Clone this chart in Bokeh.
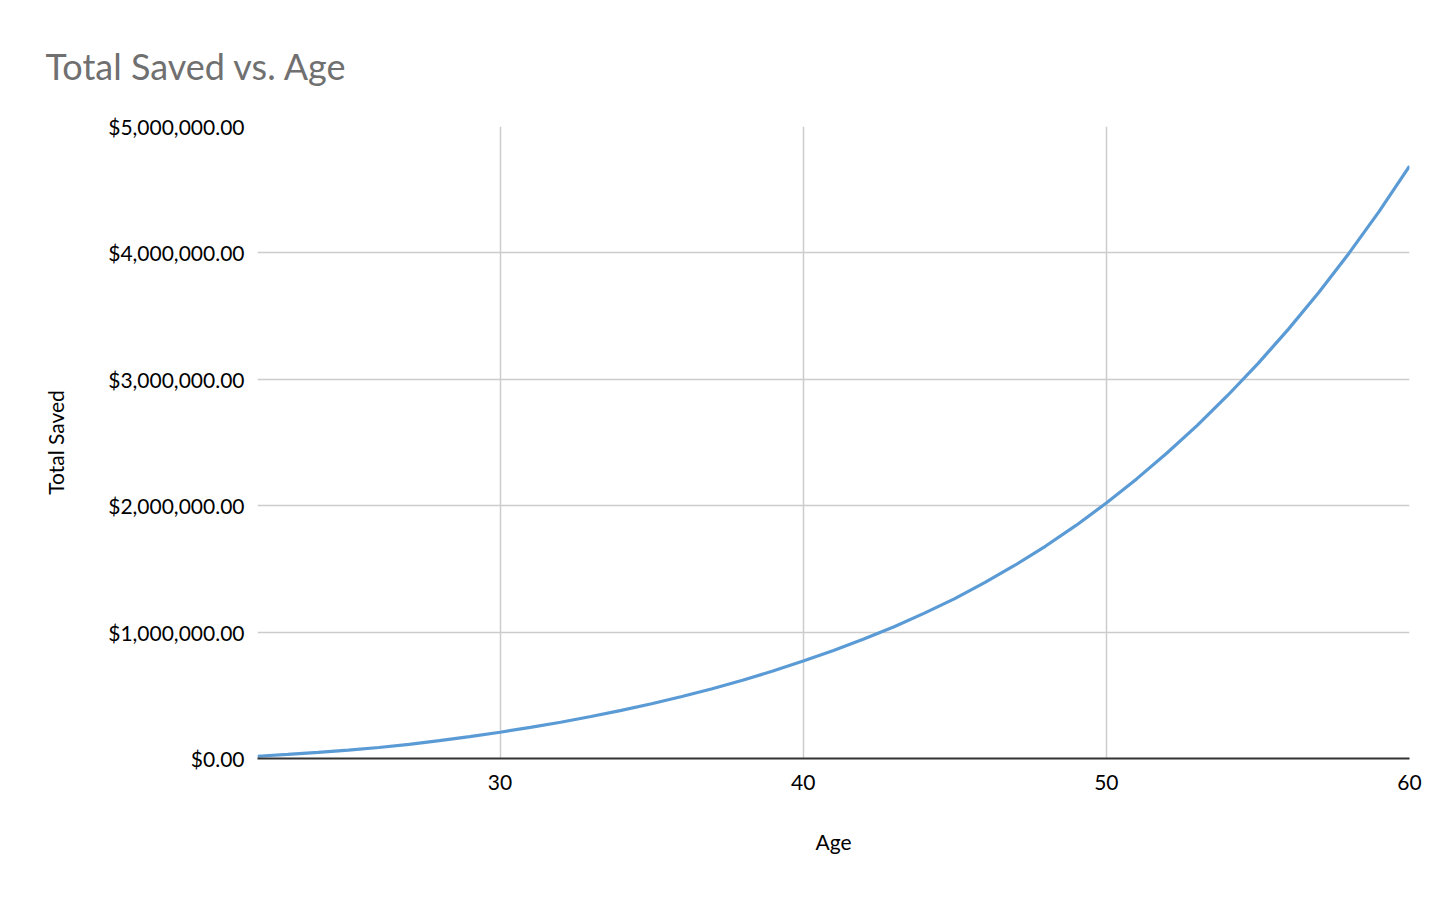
from bokeh.plotting import figure
from bokeh.models import Range1d, FixedTicker, NumeralTickFormatter, Title, ColumnDataSource
from bokeh.embed import file_html
from bokeh.resources import INLINE

# Data
ages = list(range(22, 61))
total_saved = [18000, 32000, 48000, 66000, 87000,
               112000, 141000, 173000, 208000, 246000,
               287000, 332000, 381000, 433000, 490000,
               552000, 619000, 692000, 771000, 854000,
               945000, 1043000, 1150000, 1265000, 1393000,
               1531000, 1681000, 1844000, 2021000, 2212000,
               2417000, 2636000, 2872000, 3124000, 3395000,
               3685000, 3996000, 4329000, 4687000]
x_ticks = [30, 40, 50, 60]
y_ticks = [0, 1000000, 2000000, 3000000, 4000000, 5000000]

FONT = "Lato"

p = figure(width=1446, height=892, output_backend="svg", toolbar_location=None,
           x_range=Range1d(22, 60), y_range=Range1d(0, 5000000),
           min_border_left=257, min_border_right=37, min_border_top=126, min_border_bottom=134)
p.outline_line_color = None
p.background_fill_color = "white"
p.border_fill_color = "white"

title = Title(text="Total Saved vs. Age", align="left", offset=-212, standoff=77,
              text_font=FONT, text_font_size="36px", text_font_style="normal",
              text_color="#707070")
p.add_layout(title, "above")

src = ColumnDataSource(dict(age=ages, saved=total_saved))
p.line("age", "saved", source=src, line_color="#5b9bd5", line_width=3.2)

# Grid
p.xgrid.ticker = FixedTicker(ticks=x_ticks)
p.ygrid.ticker = FixedTicker(ticks=y_ticks)
p.xgrid.grid_line_color = "#cccccc"
p.ygrid.grid_line_color = "#cccccc"
p.xgrid.grid_line_width = 1.5
p.ygrid.grid_line_width = 1.5

# X axis
xa = p.xaxis[0]
xa.ticker = FixedTicker(ticks=x_ticks)
xa.axis_line_color = "#333333"
xa.axis_line_width = 2
xa.major_tick_line_color = None
xa.minor_tick_line_color = None
xa.major_label_text_font = FONT
xa.major_label_text_font_size = "21px"
xa.major_label_text_color = "#000000"
xa.major_label_standoff = 10
xa.axis_label = "Age"
xa.axis_label_text_font = FONT
xa.axis_label_text_font_size = "21px"
xa.axis_label_text_font_style = "normal"
xa.axis_label_text_color = "#000000"
xa.axis_label_standoff = 36

# Y axis
ya = p.yaxis[0]
ya.ticker = FixedTicker(ticks=y_ticks)
ya.formatter = NumeralTickFormatter(format="$0,0.00")
ya.axis_line_color = None
ya.major_tick_line_color = None
ya.minor_tick_line_color = None
ya.major_label_text_font = FONT
ya.major_label_text_font_size = "21px"
ya.major_label_text_color = "#000000"
ya.major_label_standoff = 7
ya.axis_label = "Total Saved"
ya.axis_label_text_font = FONT
ya.axis_label_text_font_size = "21px"
ya.axis_label_text_font_style = "normal"
ya.axis_label_text_color = "#000000"
ya.axis_label_standoff = 37

open("out.html", "w").write(file_html(p, INLINE))
